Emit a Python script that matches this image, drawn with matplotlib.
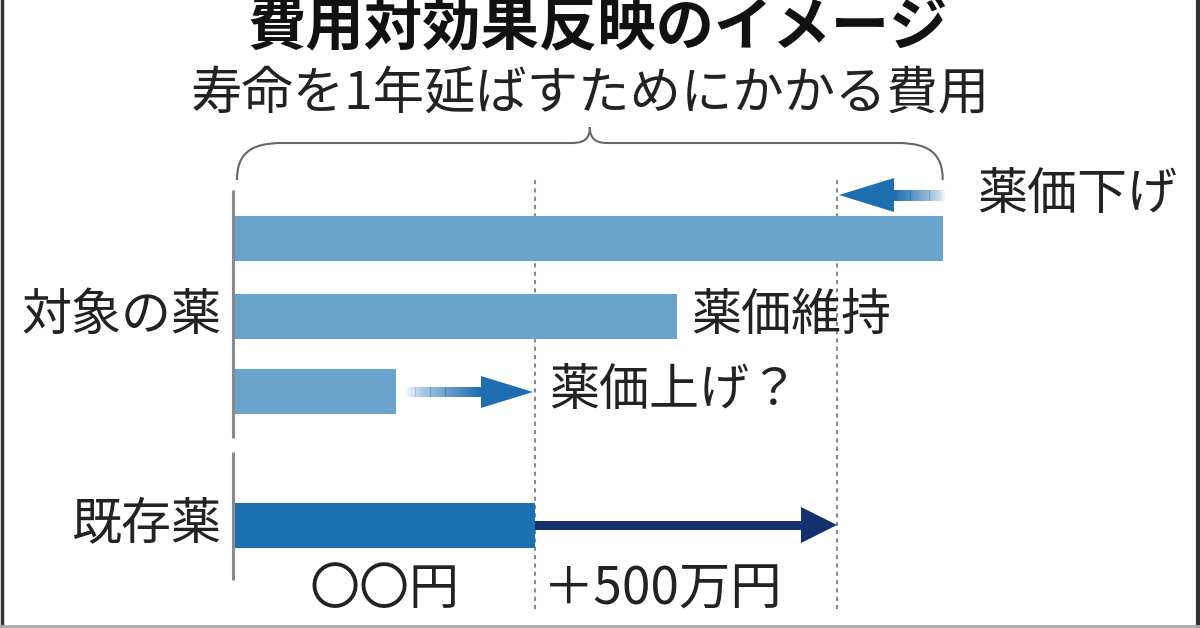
import numpy as np
import matplotlib.pyplot as plt
from matplotlib.patches import Polygon, Rectangle, PathPatch
from matplotlib.path import Path
from matplotlib.lines import Line2D

plt.rcParams['font.family'] = ['Noto Sans CJK JP', 'DejaVu Sans']

# values in units of the existing drug's cost per year of life ("〇〇円")
target_labels = ['薬価下げ', '薬価維持', '薬価上げ？']
target_costs = [2.35, 1.47, 0.54]
existing_cost = 1.0
extra_allowed = 1.0          # "+500万円" on top of the existing drug
cost_labels = ['〇〇円', '＋500万円']
group_labels = ['対象の薬', '既存薬']
title = '費用対効果反映のイメージ'
subtitle = '寿命を1年延ばすためにかかる費用'

light_blue = '#6aa3cb'
dark_blue = '#1a70b0'
arrow_blue = '#1f6fb0'
navy = '#14306e'
grey = '#8a8a8a'

UNIT = 302.0   # pixels per cost unit
X0 = 233.0     # pixel position of zero cost

fig = plt.figure(figsize=(12, 6.28), dpi=100)
ax = fig.add_axes([0, 0, 1, 1])
ax.set_xlim(-X0 / UNIT, (1200 - X0) / UNIT)
ax.set_ylim(628, 0)   # y in pixel rows from the top
ax.axis('off')


def px(p):
    return p / UNIT


def grad_arrow(x_tail, x_tip, y, color, half_w=5, head_len=50, head_h=16, fade=True):
    direction = 1 if x_tip > x_tail else -1
    head_base = x_tip - direction * px(head_len)
    n = 40
    xs = np.linspace(x_tail, head_base, n + 1)
    for i in range(n):
        a = (i + 1) / n if fade else 1.0
        a = a ** 0.7
        left = min(xs[i], xs[i + 1])
        ax.add_patch(Rectangle((left, y - half_w), abs(xs[i + 1] - xs[i]) * 1.05, 2 * half_w,
                               facecolor=color, edgecolor='none', alpha=a, zorder=4))
    ax.add_patch(Polygon([[x_tip, y], [head_base, y - head_h], [head_base, y + head_h]],
                         closed=True, facecolor=color, edgecolor='none', zorder=5))


# axis lines on the left
ax.plot([0, 0], [190, 438], color=grey, lw=2.2, solid_capstyle='butt', zorder=3)
ax.plot([0, 0], [452, 580], color=grey, lw=2.2, solid_capstyle='butt', zorder=3)

# dotted guide lines
limit_cost = existing_cost + extra_allowed
ax.vlines([existing_cost, limit_cost], 180, 612, colors=grey, linestyles=(0, (2, 2)), lw=1.5, zorder=1)

# target drug bars
bar_y = [238, 316, 391]
ax.barh(bar_y, target_costs, height=45, left=0, color=light_blue, zorder=2)

# existing drug bar
ax.barh([525], [existing_cost], height=45, left=0, color=dark_blue, zorder=2)

# arrows
grad_arrow(target_costs[0] + px(2), limit_cost + px(2), 195, arrow_blue, half_w=5.5, head_len=55, head_h=17)
grad_arrow(target_costs[2] + px(10), existing_cost - px(2), 392, arrow_blue, half_w=5, head_len=52, head_h=16)
grad_arrow(existing_cost, limit_cost, 525, navy, half_w=4.5, head_len=36, head_h=18, fade=False)

# brace over the cost range
bx0, bx1 = 0 + px(4), target_costs[0]
bm = (bx0 + bx1) / 2
ytop, ytip, yend = 143, 127, 180
verts = [
    (bx0, yend),
    (bx0, 155), (bx0 + px(12), ytop), (bx0 + px(45), ytop),
    (bm - px(18), ytop),
    (bm - px(6), ytop), (bm, ytop - 4), (bm, ytip),
    (bm, ytop - 4), (bm + px(6), ytop), (bm + px(18), ytop),
    (bx1 - px(45), ytop),
    (bx1 - px(12), ytop), (bx1, 155), (bx1, yend),
]
codes = [Path.MOVETO,
         Path.CURVE4, Path.CURVE4, Path.CURVE4,
         Path.LINETO,
         Path.CURVE4, Path.CURVE4, Path.CURVE4,
         Path.CURVE4, Path.CURVE4, Path.CURVE4,
         Path.LINETO,
         Path.CURVE4, Path.CURVE4, Path.CURVE4]
ax.add_patch(PathPatch(Path(verts, codes), facecolor='none', edgecolor='#666666', lw=1.5, zorder=3))

# titles
fs = 36
ax.text(bm + px(8), 28, title, fontsize=42, fontweight='bold', ha='center', va='center', color='#111111')
ax.text(bm, 95, subtitle, fontsize=37, ha='center', va='center', color='#222222')

# annotations
ax.text(limit_cost + px(140), 195, target_labels[0], fontsize=fs, ha='left', va='center', color='#222222')
ax.text(target_costs[1] + px(14), 316, target_labels[1], fontsize=fs, ha='left', va='center', color='#222222')
ax.text(existing_cost + px(14), 391, target_labels[2], fontsize=fs, ha='left', va='center', color='#222222')

ax.text(-px(12), 316, group_labels[0], fontsize=fs, ha='right', va='center', color='#222222')
ax.text(-px(12), 525, group_labels[1], fontsize=fs, ha='right', va='center', color='#222222')

ax.text(existing_cost / 2, 590, cost_labels[0], fontsize=fs, ha='center', va='center', color='#222222')
ax.text(existing_cost + px(8), 590, cost_labels[1], fontsize=37, ha='left', va='center', color='#222222')

# frame edges
fig.add_artist(Line2D([0.0015, 0.0015], [0, 1], color='#333333', lw=2.5, transform=fig.transFigure))
fig.add_artist(Line2D([0.998, 0.998], [0, 1], color='#333333', lw=3, transform=fig.transFigure))
fig.add_artist(Line2D([0, 1], [0.003, 0.003], color='#aaaaaa', lw=2, transform=fig.transFigure))

fig.savefig('out.png', dpi=100, facecolor='white')
